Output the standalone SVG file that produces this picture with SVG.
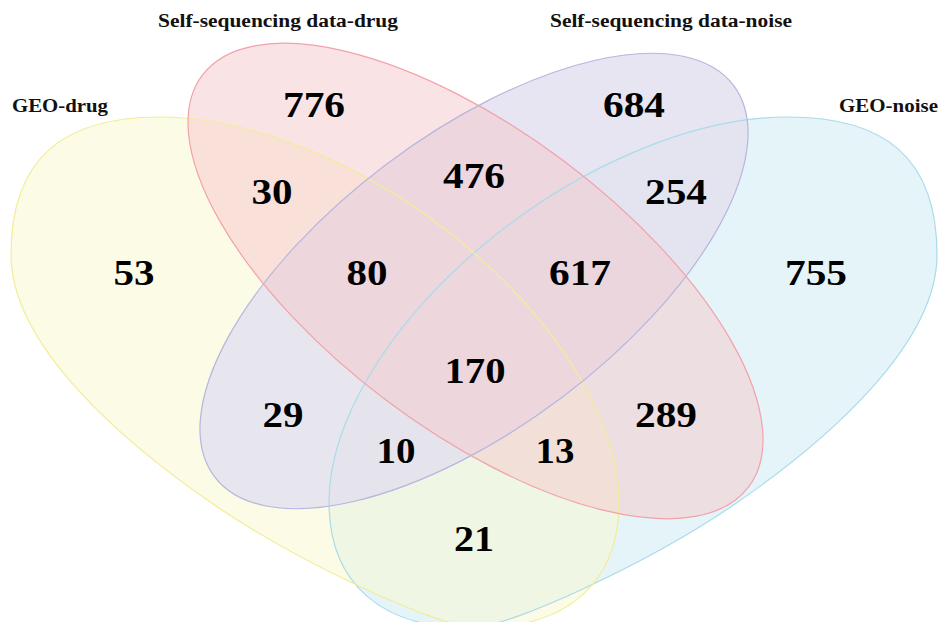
<svg xmlns="http://www.w3.org/2000/svg" xmlns:xlink="http://www.w3.org/1999/xlink" width="941" height="622" viewBox="0 0 941 622">
<style>
.lbl{font-family:"Liberation Serif","Times New Roman",serif;font-weight:bold;font-size:18px;fill:#111;}
.num{font-family:"Liberation Serif","Times New Roman",serif;font-weight:bold;font-size:36px;fill:#000;text-anchor:middle;}
.f{stroke:none;}
.o{fill:none;stroke-width:1.2;}
</style>
<defs>
<path id="egg" d="M160,117 A347,192 35.5 0 1 619,502 C619,585 565,628 478,628 C438,628 295.4,560.6 213,504 C122.4,441.7 11,345 11,255 C11,158 63,117 160,117 Z"/>
<use id="e-yellow" xlink:href="#egg" href="#egg"/>
<use id="e-blue" xlink:href="#egg" href="#egg" transform="translate(948,0) scale(-1,1)"/>
<ellipse id="e-pink" cx="0" cy="0" rx="342" ry="149" transform="translate(475.5,281) rotate(37)"/>
<ellipse id="e-purple" cx="0" cy="0" rx="325" ry="146" transform="translate(474,281) rotate(-37)"/>
</defs>
<rect width="941" height="622" fill="#fff"/>
<g id="geo-noise">
<use xlink:href="#e-blue" href="#e-blue" class="f" fill="#CBE9F3" fill-opacity="0.5"/>
<text class="lbl" x="839" y="112" textLength="99" lengthAdjust="spacingAndGlyphs">GEO-noise</text>
</g>
<g id="geo-drug">
<use xlink:href="#e-yellow" href="#e-yellow" class="f" fill="#F9F7CD" fill-opacity="0.5"/>
<text class="lbl" x="12" y="112" textLength="96" lengthAdjust="spacingAndGlyphs">GEO-drug</text>
</g>
<g id="self-seq-noise">
<use xlink:href="#e-purple" href="#e-purple" class="f" fill="#E3E0EF" fill-opacity="0.85"/>
<text class="lbl" x="550" y="27" textLength="242" lengthAdjust="spacingAndGlyphs">Self-sequencing data-noise</text>
</g>
<g id="self-seq-drug">
<use xlink:href="#e-pink" href="#e-pink" class="f" fill="#F5C7CB" fill-opacity="0.5"/>
<text class="lbl" x="158" y="27" textLength="240" lengthAdjust="spacingAndGlyphs">Self-sequencing data-drug</text>
</g>
<g id="outlines">
<use xlink:href="#e-blue" href="#e-blue" class="o" stroke="#A9DBEB"/>
<use xlink:href="#e-yellow" href="#e-yellow" class="o" stroke="#F2EC9A"/>
<use xlink:href="#e-purple" href="#e-purple" class="o" stroke="#B7B5DF"/>
<use xlink:href="#e-pink" href="#e-pink" class="o" stroke="#F2A2AA"/>
</g>
<g id="counts">
<text class="num" x="314" y="117" textLength="62" lengthAdjust="spacingAndGlyphs">776</text>
<text class="num" x="634" y="117" textLength="62" lengthAdjust="spacingAndGlyphs">684</text>
<text class="num" x="272" y="204" textLength="41" lengthAdjust="spacingAndGlyphs">30</text>
<text class="num" x="474" y="188" textLength="62" lengthAdjust="spacingAndGlyphs">476</text>
<text class="num" x="676" y="204" textLength="62" lengthAdjust="spacingAndGlyphs">254</text>
<text class="num" x="134" y="285" textLength="41" lengthAdjust="spacingAndGlyphs">53</text>
<text class="num" x="367" y="285" textLength="41" lengthAdjust="spacingAndGlyphs">80</text>
<text class="num" x="580" y="285" textLength="62" lengthAdjust="spacingAndGlyphs">617</text>
<text class="num" x="816" y="285" textLength="62" lengthAdjust="spacingAndGlyphs">755</text>
<text class="num" x="475" y="383" textLength="61" lengthAdjust="spacingAndGlyphs">170</text>
<text class="num" x="283" y="427" textLength="41" lengthAdjust="spacingAndGlyphs">29</text>
<text class="num" x="666" y="427" textLength="62" lengthAdjust="spacingAndGlyphs">289</text>
<text class="num" x="396" y="463" textLength="39" lengthAdjust="spacingAndGlyphs">10</text>
<text class="num" x="555" y="463" textLength="39" lengthAdjust="spacingAndGlyphs">13</text>
<text class="num" x="474" y="551" textLength="40" lengthAdjust="spacingAndGlyphs">21</text>
</g>
</svg>
